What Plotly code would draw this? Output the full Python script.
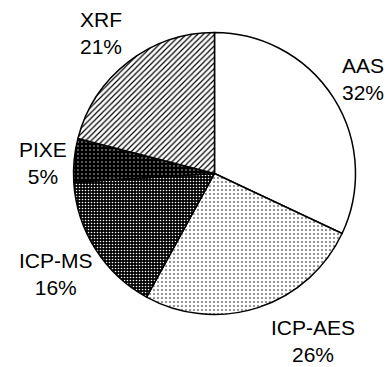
import numpy as np
import plotly.graph_objects as go

# Share of analytical techniques (%)
labels = ["AAS", "ICP-AES", "ICP-MS", "PIXE", "XRF"]
values = [32, 26, 16, 5, 21]

# Fill style per slice
bg_colors = ["white", "white", "black", "black", "white"]
fg_colors = ["black", "black", "white", "white", "black"]
shapes = ["", ".", ".", ".", "/"]
sizes = [4, 4, 3, 4, 4]
solidities = [0.2, 0.12, 0.22, 0.08, 0.3]

W, H = 389, 367
CX, CY, R = 214.5, 173.5, 141.0

# Label placement: distance from centre (in radii) and angular nudge (deg)
label_dist = [1.245, 1.375, 1.33, 1.22, 1.28]
label_nudge = [0, -12.5, 0, -2.0, -1.0]

fig = go.Figure(
    go.Pie(
        labels=labels,
        values=values,
        sort=False,
        direction="clockwise",
        rotation=0,
        textinfo="none",
        hoverinfo="label+percent",
        marker=dict(
            colors=bg_colors,
            line=dict(color="black", width=1.5),
            pattern=dict(
                shape=shapes,
                fgcolor=fg_colors,
                bgcolor=bg_colors,
                size=sizes,
                solidity=solidities,
                fillmode="replace",
            ),
        ),
        domain=dict(
            x=[(CX - R) / W, (CX + R) / W],
            y=[1 - (CY + R) / H, 1 - (CY - R) / H],
        ),
        showlegend=False,
    )
)

# Outside labels positioned along each slice's mid-angle
total = sum(values)
cum = np.cumsum([0] + values[:-1])
annotations = []
for i, (lab, v) in enumerate(zip(labels, values)):
    mid = (cum[i] + v / 2) / total * 360 + label_nudge[i]
    th = np.deg2rad(mid)
    px = CX + label_dist[i] * R * np.sin(th)
    py = CY - label_dist[i] * R * np.cos(th)
    annotations.append(
        dict(
            x=px / W,
            y=1 - py / H,
            xref="paper",
            yref="paper",
            text=f"{lab}<br>{round(v / total * 100)}%",
            showarrow=False,
            xanchor="center",
            yanchor="middle",
            align="center",
            font=dict(family="Liberation Sans, Arial, sans-serif", size=21, color="black"),
        )
    )

fig.update_layout(
    width=W,
    height=H,
    margin=dict(l=0, r=0, t=0, b=0),
    paper_bgcolor="white",
    plot_bgcolor="white",
    annotations=annotations,
)

fig.write_html("out.html")
